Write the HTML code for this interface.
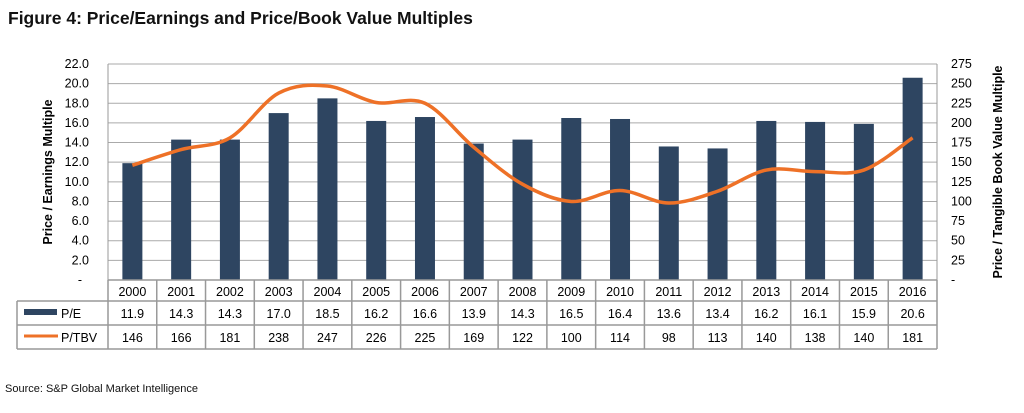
<!DOCTYPE html>
<html><head><meta charset="utf-8"><style>
body{margin:0;background:#fff;width:1024px;height:408px;overflow:hidden;font-family:"Liberation Sans",Arial,sans-serif}
</style></head><body>
<svg id="c" width="1024" height="408" style="font-family:'Liberation Sans',Arial,sans-serif">
<text x="8" y="24" font-size="17.5" font-weight="bold" fill="#111">Figure 4: Price/Earnings and Price/Book Value Multiples</text>
<text x="5" y="392" font-size="11" fill="#111">Source: S&amp;P Global Market Intelligence</text>
<text transform="translate(52,172) rotate(-90)" text-anchor="middle" font-size="12.5" font-weight="bold">Price / Earnings Multiple</text>
<text transform="translate(1002,172) rotate(-90)" text-anchor="middle" font-size="12.5" font-weight="bold">Price / Tangible Book Value Multiple</text>
<g id="g"></g>
</svg>
<script>
const years=["2000","2001","2002","2003","2004","2005","2006","2007","2008","2009","2010","2011","2012","2013","2014","2015","2016"];
const pe=[11.9,14.3,14.3,17.0,18.5,16.2,16.6,13.9,14.3,16.5,16.4,13.6,13.4,16.2,16.1,15.9,20.6];
const ptbv=[146,166,181,238,247,226,225,169,122,100,114,98,113,140,138,140,181];
const leftTicks=[0,2,4,6,8,10,12,14,16,18,20,22];
const rightTicks=[0,25,50,75,100,125,150,175,200,225,250,275];
const X0=108,X1=937,Y0=280,Y1=64,N=years.length,cw=(X1-X0)/N;
const yL=v=>Y0-(v/22)*(Y0-Y1), yR=v=>Y0-(v/275)*(Y0-Y1), xc=i=>X0+cw*(i+0.5);
const g=document.getElementById('g'),NS='http://www.w3.org/2000/svg';
function mk(t,a,txt){const e=document.createElementNS(NS,t);for(const k in a)e.setAttribute(k,a[k]);if(txt!=null)e.textContent=txt;g.appendChild(e);return e;}
leftTicks.forEach(v=>{const y=yL(v);
 const l=mk('line',{x1:X0,x2:X1,y1:y,y2:y,stroke:'#aaa','stroke-width':1});
 
 
 const t=mk('text',{x:v===0?82:89,y:y+4,'text-anchor':'end','font-size':12.5},v===0?'-':v.toFixed(1));
 
 });
rightTicks.forEach(v=>{const t=mk('text',{x:951,y:yR(v)+4,'font-size':12.5},v===0?'-':String(v));
 
 });
mk('line',{x1:X0,x2:X0,y1:Y1,y2:Y0,stroke:'#999'});
mk('line',{x1:X1,x2:X1,y1:Y1,y2:Y0,stroke:'#999'});
pe.forEach((v,i)=>{const b=mk('rect',{x:xc(i)-10,y:yL(v),width:20,height:Y0-yL(v),fill:'#2E4561'});
 
 });
const pts=ptbv.map((v,i)=>[xc(i),yR(v)]);
let d='M'+pts[0][0]+','+pts[0][1];
for(let i=0;i<pts.length-1;i++){const p0=pts[Math.max(0,i-1)],p1=pts[i],p2=pts[i+1],p3=pts[Math.min(pts.length-1,i+2)];
 d+=' C'+(p1[0]+(p2[0]-p0[0])/6)+','+(p1[1]+(p2[1]-p0[1])/6)+' '+(p2[0]-(p3[0]-p1[0])/6)+','+(p2[1]-(p3[1]-p1[1])/6)+' '+p2[0]+','+p2[1];}
const ln=mk('path',{d:d,fill:'none',stroke:'#EE7127','stroke-width':3.5});


const R=[280,301,325,349],TL=17,gc='#999';
mk('line',{x1:X0,x2:X1,y1:R[0],y2:R[0],stroke:gc,'stroke-width':1.5});
mk('line',{x1:TL,x2:X1,y1:R[1],y2:R[1],stroke:gc,'stroke-width':1.5});
mk('line',{x1:TL,x2:X1,y1:R[2],y2:R[2],stroke:gc,'stroke-width':1.5});
mk('line',{x1:TL,x2:X1,y1:R[3],y2:R[3],stroke:gc,'stroke-width':1.5});
mk('line',{x1:TL,x2:TL,y1:R[1],y2:R[3],stroke:gc,'stroke-width':1.5});
for(let i=0;i<=N;i++)mk('line',{x1:X0+cw*i,x2:X0+cw*i,y1:R[0],y2:R[3],stroke:gc,'stroke-width':1.5});
years.forEach((y,i)=>{
 const a=mk('text',{x:xc(i),y:296,'text-anchor':'middle','font-size':12.5},y);
 
 
 const b=mk('text',{x:xc(i),y:318,'text-anchor':'middle','font-size':12.5},pe[i].toFixed(1));
 
 
 const c=mk('text',{x:xc(i),y:342,'text-anchor':'middle','font-size':12.5},String(ptbv[i]));
 
 });
const k1=mk('rect',{x:24,y:309,width:33,height:6,fill:'#2E4561'});


const t1=mk('text',{x:61,y:318,'font-size':12.5},'P/E');


const k2=mk('line',{x1:24,x2:58,y1:336,y2:336,stroke:'#EE7127','stroke-width':3});


const t2=mk('text',{x:61,y:342,'font-size':12.5},'P/TBV');


</script>
</body></html>
